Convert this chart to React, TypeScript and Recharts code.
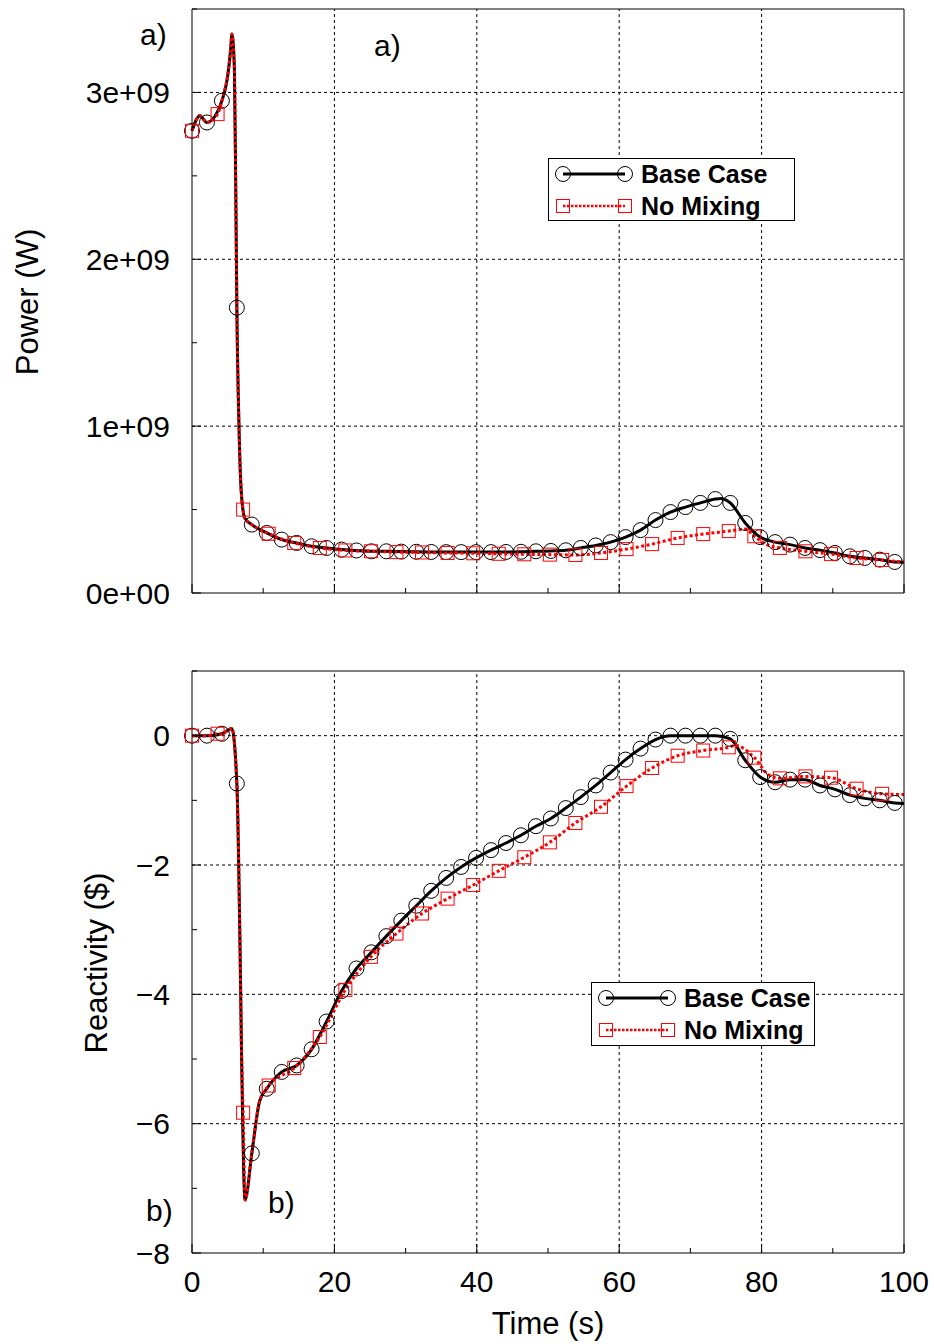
import React from 'react';
import { ComposedChart, Line, XAxis, YAxis, ReferenceLine } from 'recharts';

const FONT = '"Liberation Sans", Arial, Helvetica, sans-serif';
const RED = '#ff0000';

// ---- x axis (time, s) ----
const xTicks = [0, 10, 20, 30, 40, 50, 60, 70, 80, 90, 100];
const xMajor = [0, 20, 40, 60, 80, 100];
const xLabels = ['0', '20', '40', '60', '80', '100'];

// ---- power axis ----
const powerTicks = [0, 0.5e9, 1e9, 1.5e9, 2e9, 2.5e9, 3e9, 3.5e9];
const powerMajor = [0, 1e9, 2e9, 3e9];
const powerLabels = ['0e+00', '1e+09', '2e+09', '3e+09'];

// ---- reactivity axis ----
const reactTicks = [-8, -7, -6, -5, -4, -3, -2, -1, 0, 1];
const reactMajor = [-8, -6, -4, -2, 0];
const reactLabels = ['\u22128', '\u22126', '\u22124', '\u22122', '0'];

// ---- marker times ----
const circleTimes = [0, 2.1, 4.2, 6.3, 8.4, 10.5, 12.6, 14.7, 16.8, 18.9, 21.0, 23.1, 25.2, 27.3, 29.4, 31.5, 33.6, 35.7, 37.8, 39.9, 42.0, 44.1, 46.2, 48.3, 50.4, 52.5, 54.6, 56.7, 58.8, 60.9, 63.0, 65.1, 67.2, 69.3, 71.4, 73.5, 75.6, 77.7, 79.8, 81.9, 84.0, 86.1, 88.2, 90.3, 92.4, 94.5, 96.6, 98.7];
const squareTimes = [0, 3.59, 7.18, 10.77, 14.36, 17.95, 21.54, 25.13, 28.72, 32.31, 35.9, 39.49, 43.08, 46.67, 50.26, 53.85, 57.44, 61.03, 64.62, 68.21, 71.8, 75.39, 78.98, 82.57, 86.16, 89.75, 93.34, 96.93];

// ---- Power, Base Case (W) at circle markers ----
const basePower = [2.77e9, 2.82e9, 2.95e9, 1.71e9, 0.41e9, 0.36e9, 0.32e9, 0.30e9, 0.28e9, 0.27e9, 0.26e9, 0.255e9, 0.25e9, 0.25e9, 0.248e9, 0.247e9, 0.246e9, 0.245e9, 0.245e9, 0.245e9, 0.245e9, 0.246e9, 0.247e9, 0.25e9, 0.252e9, 0.256e9, 0.27e9, 0.285e9, 0.305e9, 0.335e9, 0.377e9, 0.437e9, 0.485e9, 0.515e9, 0.54e9, 0.563e9, 0.54e9, 0.42e9, 0.335e9, 0.305e9, 0.29e9, 0.27e9, 0.257e9, 0.24e9, 0.22e9, 0.21e9, 0.20e9, 0.186e9];
// extra curve points between markers (Base Case power)
const basePowerExtraT = [1.1, 5.45, 5.6, 5.95, 6.15, 6.6, 6.9, 7.4, 74.3, 100];
const basePowerExtraV = [2.86e9, 3.27e9, 3.35e9, 3.15e9, 2.4e9, 1.0e9, 0.62e9, 0.45e9, 0.567e9, 0.185e9];

// ---- Power, No Mixing (W) at square markers ----
const nmPower = [2.77e9, 2.87e9, 0.50e9, 0.355e9, 0.30e9, 0.27e9, 0.255e9, 0.25e9, 0.245e9, 0.243e9, 0.24e9, 0.238e9, 0.235e9, 0.232e9, 0.23e9, 0.228e9, 0.24e9, 0.263e9, 0.293e9, 0.33e9, 0.353e9, 0.371e9, 0.34e9, 0.27e9, 0.25e9, 0.233e9, 0.21e9, 0.198e9];
const nmPowerExtraT = [1.1, 2.1, 4.2, 5.45, 5.6, 5.95, 6.15, 6.3, 6.6, 6.9, 7.4, 8.4, 77.7, 80.7, 100];
const nmPowerExtraV = [2.86e9, 2.82e9, 2.95e9, 3.27e9, 3.35e9, 3.15e9, 2.4e9, 1.71e9, 1.0e9, 0.62e9, 0.45e9, 0.41e9, 0.383e9, 0.29e9, 0.185e9];

// ---- Reactivity ($), Base Case at circle markers ----
const baseReact = [0, 0, 0.03, -0.74, -6.46, -5.46, -5.2, -5.1, -4.85, -4.42, -3.95, -3.6, -3.35, -3.1, -2.86, -2.63, -2.4, -2.2, -2.03, -1.89, -1.77, -1.66, -1.54, -1.4, -1.28, -1.12, -0.95, -0.77, -0.57, -0.37, -0.2, -0.06, 0, 0, 0, 0, -0.05, -0.38, -0.64, -0.72, -0.68, -0.68, -0.77, -0.83, -0.92, -0.97, -1.0, -1.04];
const baseReactExtraT = [5.6, 6.75, 6.95, 7.45, 9.5, 100];
const baseReactExtraV = [0.11, -3.3, -4.85, -7.18, -5.65, -1.05];

// ---- Reactivity ($), No Mixing at square markers ----
const nmReact = [0, 0.03, -5.83, -5.41, -5.14, -4.66, -3.93, -3.42, -3.06, -2.75, -2.52, -2.31, -2.09, -1.88, -1.65, -1.35, -1.1, -0.78, -0.5, -0.31, -0.23, -0.18, -0.34, -0.66, -0.63, -0.65, -0.82, -0.9];
const nmReactExtraT = [2.1, 4.2, 5.6, 6.3, 6.75, 6.95, 7.45, 8.4, 9.5, 76.3, 80.9, 100];
const nmReactExtraV = [0, 0.03, 0.11, -0.74, -3.3, -4.85, -7.18, -6.46, -5.65, -0.15, -0.6, -0.91];

type Pt = { t: number; v: number };

function points(ts: number[], vs: number[]): Pt[] {
  return ts.map((t, i) => ({ t, v: vs[i] }));
}
function merged(ts: number[], vs: number[], ets: number[], evs: number[]): Pt[] {
  const p = points(ts, vs).concat(points(ets, evs));
  p.sort((a, b) => a.t - b.t);
  return p;
}

function renderTick(props: any, orient: string, majors: number[], labels: string[] | null) {
  const { x, y, payload } = props;
  const v = payload.value;
  const idx = majors.indexOf(v);
  const len = idx >= 0 ? 9 : 5;
  let line;
  let label = null;
  if (orient === 'bottom') {
    line = <line x1={x} y1={y} x2={x} y2={y - len} stroke="#000" strokeWidth={1} />;
    if (labels && idx >= 0)
      label = (
        <text x={x} y={y + 39} textAnchor="middle" fontFamily={FONT} fontSize={30} fill="#000">
          {labels[idx]}
        </text>
      );
  } else if (orient === 'top') {
    line = <line x1={x} y1={y} x2={x} y2={y + len} stroke="#000" strokeWidth={1} />;
  } else if (orient === 'left') {
    line = <line x1={x} y1={y} x2={x + len} y2={y} stroke="#000" strokeWidth={1} />;
    if (labels && idx >= 0)
      label = (
        <text x={x - 22} y={y} dy="0.36em" textAnchor="end" fontFamily={FONT} fontSize={30} fill="#000">
          {labels[idx]}
        </text>
      );
  } else {
    line = <line x1={x} y1={y} x2={x - len} y2={y} stroke="#000" strokeWidth={1} />;
  }
  return (
    <g>
      {line}
      {label}
    </g>
  );
}

function circleDot(p: any) {
  if (p.cx == null || p.cy == null) return <g key={p.index} />;
  return <circle key={p.index} cx={p.cx} cy={p.cy} r={7.5} fill="none" stroke="#000" strokeWidth={1} />;
}
function squareDot(p: any) {
  if (p.cx == null || p.cy == null) return <g key={p.index} />;
  return <rect key={p.index} x={p.cx - 6.5} y={p.cy - 6.5} width={13} height={13} fill="none" stroke={RED} strokeWidth={1} />;
}

type PanelProps = {
  height: number;
  margin: { top: number; right: number; bottom: number; left: number };
  xAxisHeight: number;
  yDomain: [number, number];
  yTicks: number[];
  yMajor: number[];
  yLabels: string[];
  showXLabels: boolean;
  baseLine: Pt[];
  baseMarks: Pt[];
  nmLine: Pt[];
  nmMarks: Pt[];
};

function Panel(pp: PanelProps) {
  const xGrid = xMajor.filter((v) => v > 0 && v < 100);
  const yGrid = pp.yMajor.filter((v) => v > pp.yDomain[0] && v < pp.yDomain[1]);
  return (
    <ComposedChart width={934} height={pp.height} margin={pp.margin}>
      <XAxis
        xAxisId="b"
        type="number"
        dataKey="t"
        domain={[0, 100]}
        ticks={xTicks}
        interval={0}
        orientation="bottom"
        height={pp.xAxisHeight}
        tickSize={0}
        tickMargin={0}
        tickLine={false}
        axisLine={{ stroke: '#000', strokeWidth: 1 }}
        tick={(p: any) => renderTick(p, 'bottom', xMajor, pp.showXLabels ? xLabels : null)}
      />
      <XAxis
        xAxisId="t"
        type="number"
        dataKey="t"
        domain={[0, 100]}
        ticks={xTicks}
        interval={0}
        orientation="top"
        height={1}
        tickSize={0}
        tickMargin={0}
        tickLine={false}
        axisLine={{ stroke: '#000', strokeWidth: 1 }}
        tick={(p: any) => renderTick(p, 'top', xMajor, null)}
      />
      <YAxis
        yAxisId="l"
        type="number"
        dataKey="v"
        domain={pp.yDomain}
        ticks={pp.yTicks}
        interval={0}
        orientation="left"
        width={192}
        tickSize={0}
        tickMargin={0}
        tickLine={false}
        axisLine={{ stroke: '#000', strokeWidth: 1 }}
        tick={(p: any) => renderTick(p, 'left', pp.yMajor, pp.yLabels)}
      />
      <YAxis
        yAxisId="r"
        type="number"
        dataKey="v"
        domain={pp.yDomain}
        ticks={pp.yTicks}
        interval={0}
        orientation="right"
        width={1}
        tickSize={0}
        tickMargin={0}
        tickLine={false}
        axisLine={{ stroke: '#000', strokeWidth: 1 }}
        tick={(p: any) => renderTick(p, 'right', pp.yMajor, null)}
      />
      {xGrid.map((g) => (
        <ReferenceLine key={'x' + g} xAxisId="b" yAxisId="l" x={g} stroke="#000" strokeWidth={1} strokeDasharray="3 3" />
      ))}
      {yGrid.map((g) => (
        <ReferenceLine key={'y' + g} xAxisId="b" yAxisId="l" y={g} stroke="#000" strokeWidth={1} strokeDasharray="3 3" />
      ))}
      <Line xAxisId="b" yAxisId="l" data={pp.baseLine} dataKey="v" type="monotone" stroke="#000" strokeWidth={3} dot={false} activeDot={false} isAnimationActive={false} />
      <Line xAxisId="b" yAxisId="l" data={pp.baseMarks} dataKey="v" stroke="none" strokeWidth={0} dot={circleDot} activeDot={false} isAnimationActive={false} />
      <Line xAxisId="b" yAxisId="l" data={pp.nmLine} dataKey="v" type="monotone" stroke={RED} strokeWidth={3} strokeDasharray="3 2.5" dot={false} activeDot={false} isAnimationActive={false} />
      <Line xAxisId="b" yAxisId="l" data={pp.nmMarks} dataKey="v" stroke="none" strokeWidth={0} dot={squareDot} activeDot={false} isAnimationActive={false} />
    </ComposedChart>
  );
}

function LegendBox({ left, top, width, height }: { left: number; top: number; width: number; height: number }) {
  return (
    <div
      style={{
        position: 'absolute',
        left,
        top,
        width: width - 2,
        height: height - 2,
        border: '1px solid #000',
        background: '#fff',
        fontFamily: FONT,
      }}
    >
      <svg width={width} height={height} style={{ position: 'absolute', left: -1, top: -1 }}>
        <line x1={15} y1={16} x2={77} y2={16} stroke="#000" strokeWidth={3} />
        <circle cx={15} cy={16} r={7.5} fill="none" stroke="#000" strokeWidth={1} />
        <circle cx={77} cy={16} r={7.5} fill="none" stroke="#000" strokeWidth={1} />
        <line x1={15} y1={48} x2={77} y2={48} stroke={RED} strokeWidth={2.5} strokeDasharray="2.5 1.5" />
        <rect x={8.5} y={41.5} width={13} height={13} fill="none" stroke={RED} strokeWidth={1} />
        <rect x={70.5} y={41.5} width={13} height={13} fill="none" stroke={RED} strokeWidth={1} />
        <text x={93} y={16} dy="0.36em" fontFamily={FONT} fontWeight="bold" fontSize={25} fill="#000">
          Base Case
        </text>
        <text x={93} y={48} dy="0.36em" fontFamily={FONT} fontWeight="bold" fontSize={25} fill="#000">
          No Mixing
        </text>
      </svg>
    </div>
  );
}

export default function App() {
  const pBaseMarks = points(circleTimes, basePower);
  const pNmMarks = points(squareTimes, nmPower);
  const rBaseMarks = points(circleTimes, baseReact);
  const rNmMarks = points(squareTimes, nmReact);
  return (
    <div style={{ position: 'absolute', left: 0, top: 0, width: 934, height: 1344, background: '#fff' }}>
      <div style={{ position: 'absolute', left: 0, top: 0 }}>
        <Panel
          height={640}
          margin={{ top: 8, right: 29, bottom: 17, left: 0 }}
          xAxisHeight={30}
          yDomain={[0, 3.5e9]}
          yTicks={powerTicks}
          yMajor={powerMajor}
          yLabels={powerLabels}
          showXLabels={false}
          baseLine={merged(circleTimes, basePower, basePowerExtraT, basePowerExtraV)}
          baseMarks={pBaseMarks}
          nmLine={merged(squareTimes, nmPower, nmPowerExtraT, nmPowerExtraV)}
          nmMarks={pNmMarks}
        />
      </div>
      <div style={{ position: 'absolute', left: 0, top: 640 }}>
        <Panel
          height={704}
          margin={{ top: 30, right: 29, bottom: 0, left: 0 }}
          xAxisHeight={91}
          yDomain={[-8, 1]}
          yTicks={reactTicks}
          yMajor={reactMajor}
          yLabels={reactLabels}
          showXLabels={true}
          baseLine={merged(circleTimes, baseReact, baseReactExtraT, baseReactExtraV)}
          baseMarks={rBaseMarks}
          nmLine={merged(squareTimes, nmReact, nmReactExtraT, nmReactExtraV)}
          nmMarks={rNmMarks}
        />
      </div>
      <LegendBox left={548} top={158} width={247} height={63} />
      <LegendBox left={591} top={982} width={224} height={64} />
      <svg width={934} height={1344} style={{ position: 'absolute', left: 0, top: 0, pointerEvents: 'none' }}>
        <text x={140} y={45} fontFamily={FONT} fontSize={30} fill="#000">a)</text>
        <text x={374} y={56} fontFamily={FONT} fontSize={30} fill="#000">a)</text>
        <text x={146} y={1221} fontFamily={FONT} fontSize={30} fill="#000">b)</text>
        <text x={268} y={1213} fontFamily={FONT} fontSize={30} fill="#000">b)</text>
        <text x={38} y={302} transform="rotate(-90 38 302)" textAnchor="middle" fontFamily={FONT} fontSize={31} fill="#000">
          Power (W)
        </text>
        <text x={107} y={963} transform="rotate(-90 107 963)" textAnchor="middle" fontFamily={FONT} fontSize={31} fill="#000">
          Reactivity ($)
        </text>
        <text x={548} y={1334} textAnchor="middle" fontFamily={FONT} fontSize={31} fill="#000">
          Time (s)
        </text>
      </svg>
    </div>
  );
}
